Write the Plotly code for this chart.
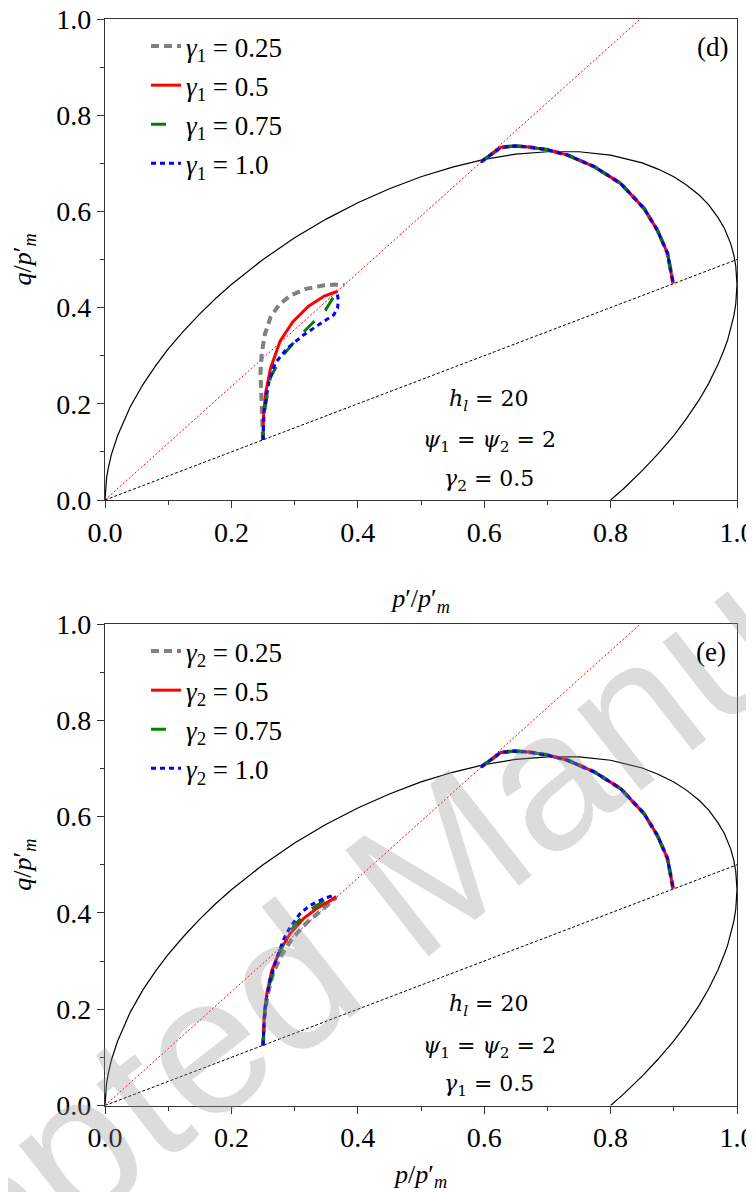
import plotly.graph_objects as go

# ---------------- data ----------------
# yield surface (same in both panels)
ell_p = [0, 0.001, 0.0025, 0.005, 0.01, 0.02, 0.03, 0.04, 0.06, 0.08, 0.1, 0.125, 0.15, 0.175, 0.2,
         0.25, 0.3, 0.35, 0.4, 0.45, 0.5, 0.55, 0.6, 0.65, 0.7, 0.75, 0.8, 0.85, 0.875, 0.9, 0.92,
         0.94, 0.955, 0.97, 0.98, 0.985, 0.99, 0.995, 0.998, 1.0,
         0.998, 0.995, 0.99, 0.985, 0.98, 0.97, 0.955, 0.94, 0.92, 0.9, 0.875, 0.85, 0.82, 0.8]
ell_q = [0, 0.029, 0.046, 0.065, 0.094, 0.134, 0.166, 0.194, 0.240, 0.279, 0.314, 0.352, 0.387, 0.419, 0.448,
         0.500, 0.545, 0.584, 0.618, 0.647, 0.672, 0.692, 0.708, 0.719, 0.724, 0.724, 0.717, 0.701, 0.688, 0.672, 0.655,
         0.634, 0.614, 0.587, 0.565, 0.550, 0.533, 0.509, 0.487, 0.448,
         0.407, 0.383, 0.354, 0.332, 0.314, 0.282, 0.242, 0.208, 0.169, 0.134, 0.096, 0.061, 0.023, 0]

# red dotted line and black dotted line through the origin
red_line_p = [0, 0.847]
red_line_q = [0, 1.0]
blk_line_p = [0, 1.0]
blk_line_q = [0, 0.5]

# right-hand stress path (identical for every series)
arc_p = [0.595, 0.610, 0.626, 0.647, 0.670, 0.700, 0.732, 0.774, 0.816, 0.853, 0.874, 0.890, 0.899]
arc_q = [0.703, 0.717, 0.733, 0.736, 0.734, 0.728, 0.717, 0.693, 0.658, 0.606, 0.561, 0.513, 0.450]

# panel (d): gamma_1 varies
d_labels = ["0.25", "0.5", "0.75", "1.0"]
d_grey_p = [0.25, 0.249, 0.247, 0.246, 0.248, 0.253, 0.262, 0.275, 0.293, 0.318, 0.345, 0.365, 0.379]
d_grey_q = [0.125, 0.17, 0.22, 0.265, 0.305, 0.345, 0.38, 0.405, 0.425, 0.439, 0.446, 0.448, 0.447]
d_red_p = [0.25, 0.2505, 0.254, 0.262, 0.277, 0.297, 0.322, 0.347, 0.368]
d_red_q = [0.125, 0.17, 0.222, 0.274, 0.33, 0.37, 0.403, 0.424, 0.434]
d_green_p = [0.25, 0.2505, 0.2536, 0.262, 0.28, 0.304, 0.330, 0.349, 0.362, 0.367]
d_green_q = [0.125, 0.146, 0.194, 0.256, 0.298, 0.336, 0.370, 0.395, 0.423, 0.435]
d_blue_p = [0.25, 0.252, 0.259, 0.269, 0.288, 0.314, 0.341, 0.362, 0.368, 0.369, 0.367]
d_blue_q = [0.125, 0.187, 0.243, 0.284, 0.315, 0.343, 0.367, 0.385, 0.399, 0.416, 0.433]

# panel (e): gamma_2 varies
e_labels = ["0.25", "0.5", "0.75", "1.0"]
e_grey_p = [0.25, 0.252, 0.257, 0.266, 0.280, 0.297, 0.318, 0.340, 0.360, 0.366]
e_grey_q = [0.125, 0.18, 0.228, 0.275, 0.314, 0.348, 0.378, 0.402, 0.424, 0.432]
e_red_p = [0.25, 0.252, 0.256, 0.264, 0.277, 0.293, 0.314, 0.335, 0.357, 0.366]
e_red_q = [0.125, 0.184, 0.232, 0.281, 0.322, 0.357, 0.388, 0.409, 0.426, 0.434]
e_green_p = [0.25, 0.253, 0.261, 0.272, 0.284, 0.300, 0.320, 0.345, 0.366]
e_green_q = [0.125, 0.2, 0.255, 0.305, 0.340, 0.375, 0.402, 0.424, 0.435]
e_blue_p = [0.25, 0.2536, 0.261, 0.272, 0.283, 0.293, 0.309, 0.325, 0.346, 0.364]
e_blue_q = [0.125, 0.211, 0.260, 0.308, 0.346, 0.371, 0.399, 0.416, 0.430, 0.437]

tick_vals = [0.0, 0.2, 0.4, 0.6, 0.8, 1.0]

# ---------------- styling ----------------
SERIF = "Liberation Serif"
OFF = 8                      # default body margin of the page
FW, FH = 754 - OFF, 1192 - OFF


def px(x):                   # screen pixel -> paper fraction
    return (x - OFF) / FW


def py(y):
    return 1 - (y - OFF) / FH


styles = [
    dict(color="#808080", width=4, dash="8px,5px"),
    dict(color="#ff0000", width=3, dash="solid"),
    dict(color="#008000", width=3, dash="15px,15px"),
    dict(color="#0000ff", width=3, dash="5px,4px"),
]

fig = go.Figure()


def add_reference(xa, ya):
    fig.add_trace(go.Scatter(x=ell_p, y=ell_q, mode="lines", xaxis=xa, yaxis=ya,
                             line=dict(color="black", width=1.2), showlegend=False, hoverinfo="skip"))
    fig.add_trace(go.Scatter(x=red_line_p, y=red_line_q, mode="lines", xaxis=xa, yaxis=ya,
                             line=dict(color="red", width=1, dash="2px,2px"), showlegend=False, hoverinfo="skip"))
    fig.add_trace(go.Scatter(x=blk_line_p, y=blk_line_q, mode="lines", xaxis=xa, yaxis=ya,
                             line=dict(color="black", width=1, dash="3px,2px"), showlegend=False, hoverinfo="skip"))


def add_paths(xa, ya, left_sets, labels, sub, legend, grp):
    for i, ((lp, lq), lab, st) in enumerate(zip(left_sets, labels, styles)):
        xs = list(lp) + [None] + list(arc_p)
        ys = list(lq) + [None] + list(arc_q)
        fig.add_trace(go.Scatter(
            x=xs, y=ys, mode="lines", xaxis=xa, yaxis=ya, connectgaps=False,
            line=st, name=f"<i>γ</i><sub>{sub}</sub> = {lab}",
            legend=legend, legendgroup=f"{grp}{i}"))


add_reference("x", "y")
add_paths("x", "y", [(d_grey_p, d_grey_q), (d_red_p, d_red_q), (d_green_p, d_green_q), (d_blue_p, d_blue_q)],
          d_labels, "1", "legend", "d")
add_reference("x2", "y2")
add_paths("x2", "y2", [(e_grey_p, e_grey_q), (e_red_p, e_red_q), (e_green_p, e_green_q), (e_blue_p, e_blue_q)],
          e_labels, "2", "legend2", "e")

# ---------------- layout ----------------
x_dom = [px(105), px(737)]
y_dom_top = [py(500), py(19)]
y_dom_bot = [py(1105.5), py(624)]


def xaxis_style(title, anchor):
    return dict(domain=x_dom, range=[0, 1], anchor=anchor, tickvals=tick_vals, tickformat=".1f",
                automargin=False, ticklabeloverflow="allow",
                ticks="outside", ticklen=7, tickwidth=1.3, tickcolor="#333",
                minor=dict(ticks="outside", ticklen=4, tickwidth=1.2, tickcolor="#333", dtick=0.1),
                showline=True, linecolor="#333", linewidth=1.4, mirror=True,
                showgrid=False, zeroline=False,
                tickfont=dict(family=SERIF, size=28, color="black"),
                title=dict(text=title, font=dict(family=SERIF, size=26, color="black"), standoff=42))


def yaxis_style(dom, title, anchor):
    d = xaxis_style(title, anchor)
    d["domain"] = dom
    d["title"]["standoff"] = 20
    return d


legend_common = dict(
    font=dict(family=SERIF, size=27, color="black"), bgcolor="rgba(0,0,0,0)",
    borderwidth=0, traceorder="grouped", tracegroupgap=1, itemwidth=30,
    xref="paper", yref="paper", xanchor="left", yanchor="top", x=px(146))

annotations = []
for txt, (ax, ay) in [("(d)", (712, 47)), ("(e)", (711, 652))]:
    annotations.append(dict(text=txt, x=px(ax), y=py(ay), xref="paper", yref="paper",
                            showarrow=False, font=dict(family=SERIF, size=27, color="black"),
                            xanchor="center", yanchor="middle"))

MATH = "DejaVu Serif"
info_top = ["<i>h</i><sub><i>l</i></sub> = 20", "<i>ψ</i><sub>1</sub> = <i>ψ</i><sub>2</sub> = 2",
            "<i>γ</i><sub>2</sub> = 0.5"]
info_bot = ["<i>h</i><sub><i>l</i></sub> = 20", "<i>ψ</i><sub>1</sub> = <i>ψ</i><sub>2</sub> = 2",
            "<i>γ</i><sub>1</sub> = 0.5"]
for lines, base in [(info_top, 500), (info_bot, 1105.5)]:
    for txt, off in zip(lines, [-100, -58.5, -20]):
        annotations.append(dict(text=txt, x=px(489), y=py(base + off), xref="paper", yref="paper",
                                showarrow=False, font=dict(family=MATH, size=22, color="black"),
                                xanchor="center", yanchor="middle"))

# watermark
annotations.append(dict(text="Accepted Manuscript", x=px(408), y=py(886), xref="paper", yref="paper",
                        showarrow=False, textangle=-38,
                        font=dict(family="Liberation Sans", size=196, color="rgba(150,150,150,0.33)"),
                        xanchor="center", yanchor="middle"))

fig.update_layout(
    width=FW, height=FH, margin=dict(l=0, r=0, t=0, b=0),
    paper_bgcolor="white", plot_bgcolor="white",
    xaxis=xaxis_style("<i>p</i>′/<i>p</i>′<sub><i>m</i></sub>", "y"),
    yaxis=yaxis_style(y_dom_top, "<i>q</i>/<i>p</i>′<sub><i>m</i></sub>", "x"),
    xaxis2=xaxis_style("<i>p</i>/<i>p</i>′<sub><i>m</i></sub>", "y2"),
    yaxis2=yaxis_style(y_dom_bot, "<i>q</i>/<i>p</i>′<sub><i>m</i></sub>", "x2"),
    legend=dict(**legend_common, y=py(22)),
    legend2=dict(**legend_common, y=py(627)),
    annotations=annotations,
    showlegend=True,
)

fig.write_html("out.html")
